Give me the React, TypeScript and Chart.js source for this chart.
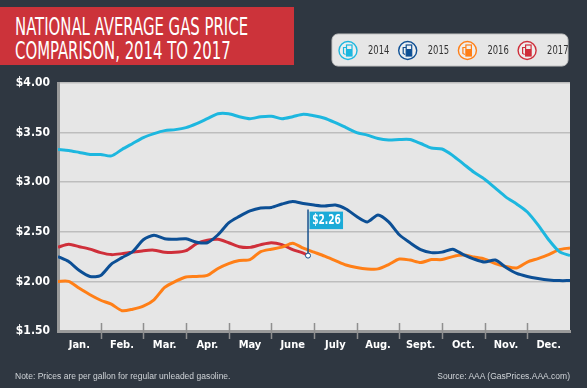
import React, { useEffect, useRef } from "react";
import { Chart, registerables } from "chart.js";

Chart.register(...registerables);

const titleLines = ["NATIONAL AVERAGE GAS PRICE", "COMPARISON, 2014 TO 2017"];
const noteText = "Note: Prices are per gallon for regular unleaded gasoline.";
const sourceText = "Source: AAA (GasPrices.AAA.com)";
const monthLabels = ["Jan.", "Feb.", "Mar.", "Apr.", "May", "June", "July", "Aug.", "Sept.", "Oct.", "Nov.", "Dec.", ""];
const yTickValues = [1.5, 2.0, 2.5, 3.0, 3.5, 4.0];
const seriesLabels = ["2014", "2015", "2016", "2017"];
const seriesColors = ["#1db7df", "#0c4f95", "#ff7f17", "#cf2f3a"];

// position in months (0 = Jan 1, 12 = Dec 31)
const monthPos = [
  0, 0.25, 0.5, 0.75, 1, 1.25, 1.5, 1.75, 2, 2.25, 2.5, 2.75, 3, 3.25, 3.5, 3.75,
  4, 4.25, 4.5, 4.75, 5, 5.25, 5.5, 5.75, 6, 6.25, 6.5, 6.75, 7, 7.25, 7.5, 7.75,
  8, 8.25, 8.5, 8.75, 9, 9.25, 9.5, 9.75, 10, 10.25, 10.5, 10.75, 11, 11.25, 11.5, 11.75, 12,
];
const price2014 = [
  3.33, 3.32, 3.30, 3.28, 3.28, 3.265, 3.33, 3.39, 3.45, 3.49, 3.52, 3.53, 3.55, 3.59, 3.64, 3.69,
  3.69, 3.66, 3.64, 3.66, 3.665, 3.64, 3.66, 3.685, 3.67, 3.645, 3.60, 3.55, 3.50, 3.475, 3.44, 3.425,
  3.43, 3.43, 3.39, 3.345, 3.335, 3.27, 3.185, 3.10, 3.03, 2.94, 2.85, 2.78, 2.70, 2.57, 2.42, 2.30, 2.26,
];
const price2015 = [
  2.25, 2.20, 2.11, 2.05, 2.06, 2.175, 2.24, 2.30, 2.42, 2.465, 2.43, 2.425, 2.43, 2.395, 2.39, 2.47,
  2.59, 2.655, 2.71, 2.74, 2.745, 2.78, 2.805, 2.785, 2.77, 2.76, 2.77, 2.73, 2.655, 2.60, 2.67, 2.60,
  2.47, 2.39, 2.32, 2.29, 2.295, 2.325, 2.27, 2.225, 2.195, 2.215, 2.14, 2.08, 2.05, 2.03, 2.015, 2.008, 2.008,
];
const price2016 = [
  2.00, 2.00, 1.93, 1.865, 1.81, 1.77, 1.705, 1.72, 1.75, 1.815, 1.94, 2.00, 2.045, 2.05, 2.06, 2.13,
  2.18, 2.21, 2.22, 2.30, 2.325, 2.345, 2.385, 2.335, 2.295, 2.255, 2.21, 2.165, 2.14, 2.126, 2.126, 2.17,
  2.225, 2.215, 2.19, 2.22, 2.22, 2.25, 2.265, 2.245, 2.225, 2.18, 2.15, 2.136, 2.195, 2.23, 2.27, 2.32, 2.337,
];
const monthPos2017 = [
  0, 0.25, 0.5, 0.75, 1, 1.25, 1.5, 1.75, 2, 2.25, 2.5, 2.75, 3, 3.25, 3.5, 3.75,
  4, 4.25, 4.5, 4.75, 5, 5.25, 5.5, 5.75, 5.86,
];
const price2017 = [
  2.345, 2.375, 2.35, 2.325, 2.29, 2.27, 2.28, 2.295, 2.31, 2.315, 2.295, 2.293, 2.31, 2.38, 2.415, 2.425,
  2.39, 2.35, 2.343, 2.37, 2.39, 2.37, 2.32, 2.285, 2.26,
];
const latestLabel = "$2.26";

const condensed = "'DejaVu Sans Condensed', 'Liberation Sans Narrow', sans-serif";

function drawPump(ctx: CanvasRenderingContext2D, cx: number, cy: number, color: string) {
  ctx.save();
  ctx.beginPath();
  ctx.arc(cx, cy, 9, 0, Math.PI * 2);
  ctx.fillStyle = "#eeeeee";
  ctx.fill();
  ctx.lineWidth = 1.4;
  ctx.strokeStyle = color;
  ctx.stroke();
  const bx = cx - 1.5;
  const by = cy - 5.5;
  ctx.fillStyle = color;
  ctx.fillRect(bx, by + 4, 5.5, 7);
  ctx.lineWidth = 1.2;
  ctx.strokeRect(bx, by, 5.5, 11);
  ctx.beginPath();
  ctx.moveTo(bx, by + 2.5);
  ctx.lineTo(bx - 3, by + 2.5);
  ctx.lineTo(bx - 3, by + 8.5);
  ctx.lineTo(bx - 1, by + 9.5);
  ctx.stroke();
  ctx.restore();
}

function narrowText(ctx: CanvasRenderingContext2D, text: string, x: number, y: number, sx: number) {
  ctx.save();
  ctx.translate(x, y);
  ctx.scale(sx, 1);
  ctx.fillText(text, 0, 0);
  ctx.restore();
}

const decorPlugin = {
  id: "decor",
  beforeDraw(chart: any) {
    const { ctx, chartArea } = chart;
    ctx.save();
    ctx.fillStyle = "#e6e6e6";
    ctx.fillRect(chartArea.left, chartArea.top, chartArea.right - chartArea.left, chartArea.bottom - chartArea.top);
    ctx.restore();
  },
  afterDatasetsDraw(chart: any) {
    const { ctx } = chart;
    const meta = chart.getDatasetMeta(3);
    const pts = meta.data;
    const p = pts[pts.length - 1];
    const px = p.x;
    const py = p.y;
    ctx.save();
    ctx.strokeStyle = "#16508c";
    ctx.lineWidth = 1.5;
    ctx.beginPath();
    ctx.moveTo(px, py);
    ctx.lineTo(px, py - 46);
    ctx.stroke();
    ctx.fillStyle = "#1cabd8";
    ctx.fillRect(px + 1.5, py - 44, 33.5, 17.5);
    ctx.fillStyle = "#ffffff";
    ctx.font = `bold 14px ${condensed}`;
    ctx.textAlign = "center";
    ctx.textBaseline = "middle";
    narrowText(ctx, latestLabel, px + 18.5, py - 35, 0.72);
    ctx.beginPath();
    ctx.arc(px, py, 2.5, 0, Math.PI * 2);
    ctx.fillStyle = "#ffffff";
    ctx.fill();
    ctx.lineWidth = 1;
    ctx.strokeStyle = "#16508c";
    ctx.stroke();
    ctx.restore();
  },
  afterDraw(chart: any) {
    const { ctx, chartArea } = chart;
    const xs = chart.scales.x;
    ctx.save();
    // month boundary tick marks
    ctx.strokeStyle = "#8f8f8f";
    ctx.lineWidth = 1.5;
    for (let i = 1; i < 12; i++) {
      const x = Math.round(xs.getPixelForValue(i)) + 0.5;
      ctx.beginPath();
      ctx.moveTo(x, chartArea.bottom - 8);
      ctx.lineTo(x, chartArea.bottom + 8);
      ctx.stroke();
    }
    // legend box
    const lx = 332, ly = 34, lw = 236, lh = 32, r = 6;
    ctx.beginPath();
    ctx.moveTo(lx + r, ly);
    ctx.arcTo(lx + lw, ly, lx + lw, ly + lh, r);
    ctx.arcTo(lx + lw, ly + lh, lx, ly + lh, r);
    ctx.arcTo(lx, ly + lh, lx, ly, r);
    ctx.arcTo(lx, ly, lx + lw, ly, r);
    ctx.closePath();
    ctx.fillStyle = "#e6e6e6";
    ctx.fill();
    ctx.lineWidth = 1;
    ctx.strokeStyle = "#c4c4c4";
    ctx.stroke();
    chart.data.datasets.forEach((ds: any, i: number) => {
      const cx = 348 + i * 59.7;
      const cy = 50.5;
      drawPump(ctx, cx, cy, ds.borderColor);
      ctx.fillStyle = "#333333";
      ctx.font = `13px ${condensed}`;
      ctx.textAlign = "left";
      ctx.textBaseline = "middle";
      narrowText(ctx, ds.label, cx + 20, cy + 0.5, 0.72);
    });
    ctx.restore();
  },
};

export default function App() {
  const canvasRef = useRef<HTMLCanvasElement | null>(null);

  useEffect(() => {
    document.body.style.margin = "0";
    const canvas = canvasRef.current;
    if (!canvas) return;
    const series = [
      { xs: monthPos, ys: price2014 },
      { xs: monthPos, ys: price2015 },
      { xs: monthPos, ys: price2016 },
      { xs: monthPos2017, ys: price2017 },
    ];
    const chart = new Chart(canvas, {
      type: "line",
      data: {
        datasets: series.map((s, i) => ({
          label: seriesLabels[i],
          data: s.xs.map((x, j) => ({ x, y: s.ys[j] })),
          borderColor: seriesColors[i],
          backgroundColor: seriesColors[i],
          borderWidth: 3,
          pointRadius: 0,
          tension: 0.25,
          fill: false,
        })),
      },
      options: {
        animation: false,
        responsive: false,
        devicePixelRatio: 1,
        layout: { padding: { left: 0, right: 17, top: 83, bottom: 27 } },
        plugins: { legend: { display: false }, tooltip: { enabled: false } },
        scales: {
          x: {
            type: "linear",
            min: 0,
            max: 12,
            afterBuildTicks: (s: any) => {
              s.ticks = monthLabels.map((_, i) => ({ value: i }));
            },
            afterFit: (s: any) => {
              s.height = 30;
            },
            ticks: {
              autoSkip: false,
              maxRotation: 0,
              labelOffset: 21.33,
              padding: 8,
              color: "#ffffff",
              font: { family: condensed, size: 11, weight: "bold" },
              callback: (v: any) => monthLabels[Math.round(v)] ?? "",
            },
            grid: { drawOnChartArea: false, drawTicks: false },
            border: { display: true, color: "#9a9a9a", width: 3 },
          },
          y: {
            type: "linear",
            min: 1.5,
            max: 4.0,
            afterBuildTicks: (s: any) => {
              s.ticks = yTickValues.map((v) => ({ value: v }));
            },
            afterFit: (s: any) => {
              s.width = 58;
            },
            ticks: {
              padding: 8,
              color: "#ffffff",
              font: { family: condensed, size: 12, weight: "bold" },
              callback: (v: any) => "$" + Number(v).toFixed(2),
            },
            grid: { color: "#bdbdbd", lineWidth: 1.5, drawTicks: false },
            border: { display: true, color: "#9a9a9a", width: 3 },
          },
        },
      },
      plugins: [decorPlugin],
    } as any);
    return () => chart.destroy();
  }, []);

  return (
    <div
      style={{
        position: "fixed",
        left: 0,
        top: 0,
        width: 587,
        height: 388,
        background: "#2f3741",
        overflow: "hidden",
      }}
    >
      <canvas ref={canvasRef} width={587} height={388} style={{ position: "absolute", left: 0, top: 0 }} />
      <div
        style={{
          position: "absolute",
          left: 0,
          top: 7,
          width: 294,
          height: 58,
          background: "#cc333a",
        }}
      >
        <div
          style={{
            position: "absolute",
            left: 15,
            top: 7.5,
            fontFamily: condensed,
            fontSize: 24,
            lineHeight: "24.5px",
            color: "#ffffff",
            whiteSpace: "pre",
            transform: "scaleX(0.69)",
            transformOrigin: "left top",
          }}
        >
          {titleLines[0]}
          <br />
          {titleLines[1]}
        </div>
      </div>
      <div
        style={{
          position: "absolute",
          left: 15,
          top: 371,
          fontFamily: "'Liberation Sans', Arial, sans-serif",
          fontSize: 8.5,
          lineHeight: "10px",
          color: "#d0d4d8",
          whiteSpace: "nowrap",
        }}
      >
        {noteText}
      </div>
      <div
        style={{
          position: "absolute",
          right: 17,
          top: 371,
          fontFamily: "'Liberation Sans', Arial, sans-serif",
          fontSize: 8.5,
          lineHeight: "10px",
          color: "#d0d4d8",
          whiteSpace: "nowrap",
        }}
      >
        {sourceText}
      </div>
    </div>
  );
}
